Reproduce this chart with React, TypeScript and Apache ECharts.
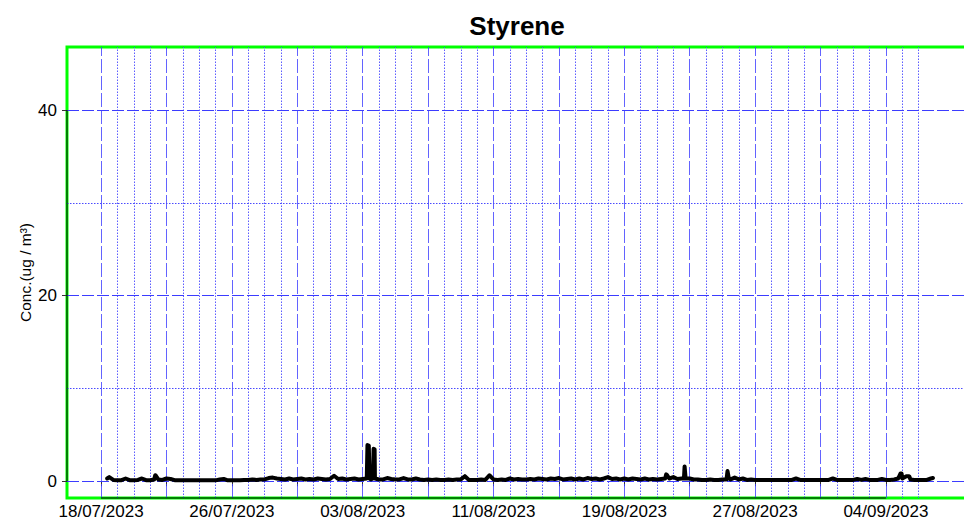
import React, { useEffect, useRef } from 'react';
import * as echarts from 'echarts';

const TITLE = 'Styrene';
const Y_NAME = 'Conc.(ug / m³)';
const FONT = '"Liberation Sans", Arial, Helvetica, sans-serif';

// Base readings: one row per day starting FIRST_DAY, values at 00, 06, 12, 18 h
const FIRST_DAY = '2023-07-18';
const SAMPLE_HOURS = [0, 6, 12, 18];
const baseRows: (number | null)[][] = [
  [null, null, 0.45, 0.15], // 18/07
  [0.12, 0.12, 0.3, 0.12],
  [0.12, 0.15, 0.3, 0.12],
  [0.12, 0.2, 0.2, 0.15],
  [0.3, 0.25, 0.12, 0.12],
  [0.1, 0.1, 0.1, 0.1],
  [0.1, 0.1, 0.12, 0.1],
  [0.1, 0.2, 0.25, 0.1],
  [0.12, 0.12, 0.12, 0.15], // 26/07
  [0.15, 0.2, 0.15, 0.2],
  [0.2, 0.35, 0.4, 0.3],
  [0.25, 0.2, 0.3, 0.2],
  [0.25, 0.3, 0.2, 0.25],
  [0.2, 0.3, 0.25, 0.2],
  [0.25, 0.6, 0.25, 0.3], // 01/08
  [0.2, 0.25, 0.3, 0.2],
  [0.25, 0.3, 0.2, 0.2], // 03/08
  [0.2, 0.2, 0.35, 0.25],
  [0.2, 0.2, 0.35, 0.2],
  [0.2, 0.3, 0.2, 0.15],
  [0.2, 0.15, 0.2, 0.15],
  [0.15, 0.2, 0.15, 0.2],
  [0.2, 0.55, 0.15, 0.15],
  [0.15, 0.2, 0.15, 0.65],
  [0.2, 0.15, 0.2, 0.15], // 11/08
  [0.3, 0.2, 0.25, 0.2],
  [0.2, 0.25, 0.2, 0.3],
  [0.25, 0.2, 0.3, 0.25],
  [0.35, 0.2, 0.25, 0.3],
  [0.2, 0.3, 0.2, 0.35],
  [0.25, 0.3, 0.2, 0.3],
  [0.45, 0.25, 0.3, 0.2],
  [0.3, 0.2, 0.3, 0.25], // 19/08
  [0.2, 0.3, 0.2, 0.25],
  [0.2, 0.25, 0.3, 0.3],
  [0.45, 0.25, 0.3, 0.3],
  [0.3, 0.2, 0.2, 0.15],
  [0.15, 0.2, 0.15, 0.15],
  [0.2, 0.2, 0.2, 0.4],
  [0.2, 0.3, 0.15, 0.2],
  [0.15, 0.15, 0.15, 0.15], // 27/08
  [0.15, 0.15, 0.15, 0.15],
  [0.15, 0.15, 0.3, 0.15],
  [0.15, 0.15, 0.15, 0.15],
  [0.15, 0.15, 0.15, 0.3],
  [0.15, 0.15, 0.15, 0.15], // 01/09
  [0.15, 0.25, 0.15, 0.25],
  [0.15, 0.15, 0.15, 0.25],
  [0.15, 0.15, 0.2, 0.3], // 04/09
  [0.3, 0.55, 0.2, 0.15],
  [0.15, 0.15, 0.15, 0.3], // 06/09
];

// Short events
const peaks: [string, number][] = [
  ['2023-07-18 09:00', 0.3],
  ['2023-07-21 07:30', 0.65],
  ['2023-07-21 08:30', 0.6],
  ['2023-08-03 06:00', 0.3],
  ['2023-08-03 07:00', 3.9],
  ['2023-08-03 09:00', 3.85],
  ['2023-08-03 10:00', 0.3],
  ['2023-08-03 15:00', 0.3],
  ['2023-08-03 16:00', 3.5],
  ['2023-08-03 17:30', 3.45],
  ['2023-08-03 18:00', 0.3],
  ['2023-08-21 13:30', 0.75],
  ['2023-08-21 14:30', 0.7],
  ['2023-08-22 15:30', 0.3],
  ['2023-08-22 16:30', 1.6],
  ['2023-08-22 17:30', 1.6],
  ['2023-08-22 18:00', 0.3],
  ['2023-08-25 07:30', 1.1],
  ['2023-08-25 08:30', 1.1],
  ['2023-08-25 09:30', 0.3],
  ['2023-09-04 21:30', 0.85],
  ['2023-09-04 23:00', 0.85],
  ['2023-09-05 09:00', 0.55],
  ['2023-09-05 10:30', 0.5],
  ['2023-09-06 21:00', 0.35],
];

const tickDates = [
  '2023-07-18', '2023-07-22', '2023-07-26', '2023-07-30', '2023-08-03', '2023-08-07', '2023-08-11',
  '2023-08-15', '2023-08-19', '2023-08-23', '2023-08-27', '2023-08-31', '2023-09-04',
];
const labelDates = ['2023-07-18', '2023-07-26', '2023-08-03', '2023-08-11', '2023-08-19', '2023-08-27', '2023-09-04'];
const GRID_FIRST_DAY = '2023-07-18';
const GRID_LAST_DAY = '2023-09-06';
const X_MIN = '2023-07-15 22:00';
const X_MAX = '2023-09-08 23:00';
const Y_MIN = -1.8;
const Y_MAX = 46.8;
const yTicks = [0, 20, 40];
const yMinorLines = [10, 30];

const DAY = 86400000;
const HOUR = 3600000;

function toMs(s: string): number {
  const [d, t = '00:00'] = s.split(' ');
  const [Y, M, D] = d.split('-').map(Number);
  const [h, m] = t.split(':').map(Number);
  return Date.UTC(Y, M - 1, D, h, m);
}
const pad = (n: number) => (n < 10 ? '0' + n : '' + n);
function fmtDate(v: number): string {
  const d = new Date(v);
  return `${pad(d.getUTCDate())}/${pad(d.getUTCMonth() + 1)}/${d.getUTCFullYear()}`;
}

function buildPoints(): [number, number][] {
  const m = new Map<number, number>();
  const t0 = toMs(FIRST_DAY);
  baseRows.forEach((row, i) =>
    row.forEach((v, j) => {
      if (v != null) m.set(t0 + i * DAY + SAMPLE_HOURS[j] * HOUR, v);
    })
  );
  peaks.forEach(([t, v]) => m.set(toMs(t), v));
  return [...m.entries()].sort((a, b) => a[0] - b[0]);
}

const BLUE = '#3c3cff';
const BLUE_DOT = '#4a4aff';

function buildGridLines() {
  const items: any[] = [];
  const dashed = new Set(tickDates.map(toMs));
  for (let t = toMs(GRID_FIRST_DAY); t <= toMs(GRID_LAST_DAY); t += DAY) {
    const isDash = dashed.has(t);
    items.push({
      xAxis: t,
      lineStyle: isDash
        ? { color: BLUE, width: 1, type: [14, 3], opacity: 0.8 }
        : { color: BLUE_DOT, width: 1, type: [1.5, 1.5], opacity: 0.9 },
    });
  }
  yTicks.forEach((v) =>
    items.push({ yAxis: v, lineStyle: { color: BLUE, width: 1, type: [12, 3] } })
  );
  yMinorLines.forEach((v) =>
    items.push({ yAxis: v, lineStyle: { color: BLUE_DOT, width: 1, type: [1.5, 1.5] } })
  );
  return items;
}

export default function App() {
  const ref = useRef<HTMLDivElement>(null);
  useEffect(() => {
    if (!ref.current) return;
    const chart = echarts.init(ref.current, undefined, { renderer: 'svg' });
    const option: any = {
      animation: false,
      backgroundColor: '#ffffff',
      title: {
        text: TITLE,
        left: 512,
        textAlign: 'center',
        top: 8,
        textStyle: { fontFamily: FONT, fontSize: 26, fontWeight: 'bold', color: '#000' },
      },
      grid: {
        left: 67,
        top: 47,
        width: 900,
        height: 451,
        show: true,
        borderColor: '#00ff00',
        borderWidth: 3,
        backgroundColor: 'transparent',
        outerBoundsMode: 'none',
      },
      xAxis: {
        type: 'value',
        min: toMs(X_MIN),
        max: toMs(X_MAX),
        axisLine: { show: false },
        axisTick: {
          show: true,
          customValues: tickDates.map(toMs),
          length: 5,
          lineStyle: { color: '#333', width: 1 },
        },
        axisLabel: {
          customValues: labelDates.map(toMs),
          formatter: (v: number) => fmtDate(v),
          fontFamily: FONT,
          fontSize: 17,
          color: '#000',
          margin: 5,
        },
        splitLine: { show: false },
      },
      yAxis: {
        type: 'value',
        min: Y_MIN,
        max: Y_MAX,
        axisLine: { show: false },
        axisTick: {
          show: true,
          customValues: yTicks,
          length: 5,
          lineStyle: { color: '#333', width: 1 },
        },
        axisLabel: {
          customValues: yTicks,
          fontFamily: FONT,
          fontSize: 17,
          color: '#000',
          margin: 10,
        },
        splitLine: { show: false },
        name: Y_NAME,
        nameLocation: 'middle',
        nameRotate: 90,
        nameGap: 34,
        nameMoveOverlap: false,
        nameTextStyle: { fontFamily: FONT, fontSize: 15.5, color: '#000' },
      },
      series: [
        {
          type: 'line',
          data: [],
          z: 1,
          silent: true,
          markLine: {
            silent: true,
            z: 1,
            symbol: ['none', 'none'],
            label: { show: false },
            emphasis: { disabled: true },
            animation: false,
            data: buildGridLines(),
          },
        },
        {
          type: 'line',
          data: buildPoints(),
          z: 3,
          showSymbol: false,
          symbol: 'none',
          silent: true,
          lineStyle: { color: '#000', width: 4, cap: 'round', join: 'round' },
        },
      ],
    };
    chart.setOption(option);

    const p = (x: number, y: number) => chart.convertToPixel({ gridIndex: 0 } as any, [x, y]) as number[];
    const xMin = toMs(X_MIN);
    const b0 = p(toMs(tickDates[0]), Y_MIN);
    const b1 = p(toMs(tickDates[tickDates.length - 1]), Y_MIN);
    const l0 = p(xMin, yTicks[0]);
    const l1 = p(xMin, yTicks[yTicks.length - 1]);
    chart.setOption({
      graphic: [
        {
          type: 'line',
          z: 20,
          silent: true,
          shape: { x1: b0[0], y1: b0[1], x2: b1[0], y2: b1[1] },
          style: { stroke: '#000', lineWidth: 1 },
        },
        {
          type: 'line',
          z: 20,
          silent: true,
          shape: { x1: l0[0], y1: l0[1], x2: l1[0], y2: l1[1] },
          style: { stroke: '#000', lineWidth: 1 },
        },
      ],
    });

    return () => chart.dispose();
  }, []);
  return (
    <div
      ref={ref}
      style={{ position: 'fixed', left: 0, top: 0, width: 964, height: 523, background: '#fff' }}
    />
  );
}
